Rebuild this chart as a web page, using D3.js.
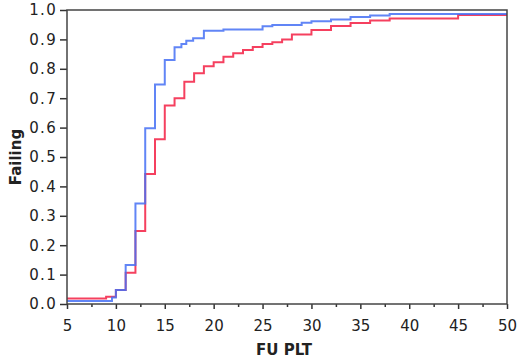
<!DOCTYPE html>
<html>
<head>
<meta charset="utf-8">
<script src="https://cdn.jsdelivr.net/npm/d3@7"></script>
<style>
  body { margin: 0; background: #fff; }
  text { font-family: "DejaVu Sans", sans-serif; fill: #222; }
</style>
</head>
<body>
<svg id="cdf" width="520" height="361"></svg>
<script>
const svg = d3.select("#cdf");

// step points: [FU PLT, fraction failing]
const blueSteps = [
  [5, 0.01], [9.6, 0.022], [10, 0.048], [11, 0.133], [12, 0.342], [13, 0.598],
  [14, 0.747], [15, 0.83], [16, 0.873], [16.7, 0.884], [17.2, 0.895], [17.9, 0.904],
  [19, 0.929], [21, 0.934], [25, 0.945], [26, 0.949], [29, 0.957], [30, 0.962],
  [32, 0.968], [34, 0.976], [36, 0.981], [38, 0.986], [50, 0.986]
];
const redSteps = [
  [5, 0.019], [9, 0.025], [10, 0.048], [11, 0.106], [12, 0.248], [13, 0.442],
  [14, 0.56], [15, 0.675], [16, 0.70], [17, 0.756], [18, 0.785], [19, 0.809],
  [20, 0.822], [21, 0.841], [22, 0.853], [23, 0.864], [24, 0.874], [25, 0.884],
  [26, 0.89], [27, 0.90], [28, 0.917], [30, 0.932], [32, 0.946], [34, 0.956],
  [36, 0.964], [38, 0.971], [45, 0.983], [50, 0.983]
];
const xTicks = d3.range(5, 51, 5);
const xMinor = d3.range(7.5, 50, 5);
const yTicks = d3.range(0, 1.01, 0.1);

const plotL = 67, plotR = 507, plotT = 10, plotB = 304;
const x = d3.scaleLinear().domain([5, 50]).range([plotL, plotR]);
const y = d3.scaleLinear().domain([0, 1]).range([plotB, plotT]);

// y axis
const gy = svg.append("g").attr("transform", `translate(${plotL},0)`)
  .call(d3.axisLeft(y).tickValues(yTicks).tickFormat(d3.format(".1f")).tickSize(7).tickPadding(3));
gy.select(".domain").remove();
gy.selectAll(".tick line").attr("stroke", "#333").attr("stroke-width", 1.5);
gy.selectAll(".tick text").style("font-size", "15px").style("letter-spacing", "1.3px")
  .attr("fill", "#222").attr("font-family", null);

// x axis
const gx = svg.append("g").attr("transform", `translate(0,${plotB})`)
  .call(d3.axisBottom(x).tickValues(xTicks).tickFormat(d3.format("d")).tickSize(5).tickPadding(11));
gx.select(".domain").remove();
gx.selectAll(".tick line").attr("stroke", "#333").attr("stroke-width", 1.5);
gx.selectAll(".tick text").style("font-size", "15px").attr("fill", "#222").attr("font-family", null);

const gm = svg.append("g").attr("transform", `translate(0,${plotB})`)
  .call(d3.axisBottom(x).tickValues(xMinor).tickFormat("").tickSize(3));
gm.select(".domain").remove();
gm.selectAll(".tick line").attr("stroke", "#333").attr("stroke-width", 1.5);

// step curves
const step = d3.line().x(d => x(d[0])).y(d => y(d[1])).curve(d3.curveStepAfter);

svg.append("path").datum(redSteps)
  .attr("fill", "none").attr("stroke", "#f5405f").attr("stroke-width", 2)
  .attr("d", step);
svg.append("path").datum(blueSteps)
  .attr("fill", "none").attr("stroke", "#4570f5").attr("stroke-width", 2)
  .attr("stroke-opacity", 0.85)
  .attr("d", step);

// frame
svg.append("rect")
  .attr("x", plotL).attr("y", plotT)
  .attr("width", plotR - plotL).attr("height", plotB - plotT)
  .attr("fill", "none").attr("stroke", "#444").attr("stroke-width", 1.5);

// axis titles
svg.append("text")
  .attr("transform", `translate(21,157) rotate(-90)`)
  .attr("text-anchor", "middle")
  .style("font-size", "15px").style("font-weight", "bold")
  .text("Failing");

svg.append("text")
  .attr("x", 284).attr("y", 355)
  .attr("text-anchor", "middle")
  .style("font-size", "15px").style("font-weight", "bold")
  .text("FU PLT");
</script>
</body>
</html>
